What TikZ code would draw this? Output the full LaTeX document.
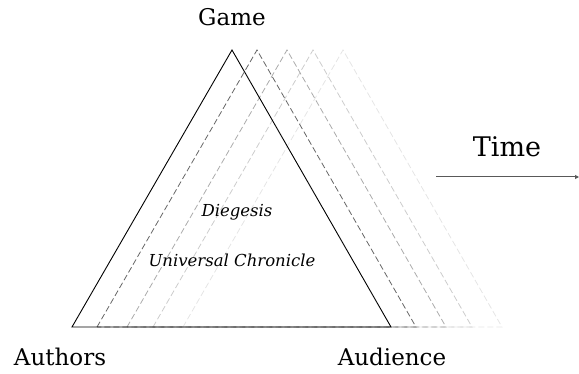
\documentclass[tikz,border=0pt]{standalone}
\usepackage{fontspec}
\setmainfont{DejaVu Serif}
\usepackage{xcolor}
\usepackage{tikz}
\usetikzlibrary{arrows.meta}

\tikzset{
  corner/.style={font=\fontsize{23}{26}\selectfont},
  inner/.style={font=\fontsize{16.5}{19}\selectfont\itshape},
  ghost/.style={dash pattern=on 6pt off 3pt, line width=0.8pt}
}

\begin{document}
\begin{tikzpicture}[x=1pt,y=-1pt]
\useasboundingbox (0,0) rectangle (579,374);
\coordinate (T) at (232,50);
\coordinate (L) at (72,327);
\coordinate (R) at (391,327);
\foreach \dx/\shade in {111/10,81/20,55/33,25/60} {
  \draw[ghost, black!\shade] ([xshift=\dx pt]L) -- ([xshift=\dx pt]T) -- ([xshift=\dx pt]R) -- cycle;
}
\draw[line width=0.9pt] (L) -- (T) -- (R) -- cycle;
\node at (232,17) (game) [corner] {Game};
\node at (60,357) (authors) [corner] {Authors};
\node at (392,357) (audience) [corner] {Audience};
\node at (507,147) (time) [corner, font=\fontsize{27}{30}\selectfont] {Time};
\node at (237,212) (diegesis) [inner] {Diegesis};
\node at (232,260) (chronicle) [inner] {Universal Chronicle};
\coordinate (t0) at (436,177);
\coordinate (t1) at (579,177);
\draw[black!65, line width=1pt, -{Triangle[length=4pt,width=4pt]}] (t0) -- (t1);
\end{tikzpicture}
\end{document}
